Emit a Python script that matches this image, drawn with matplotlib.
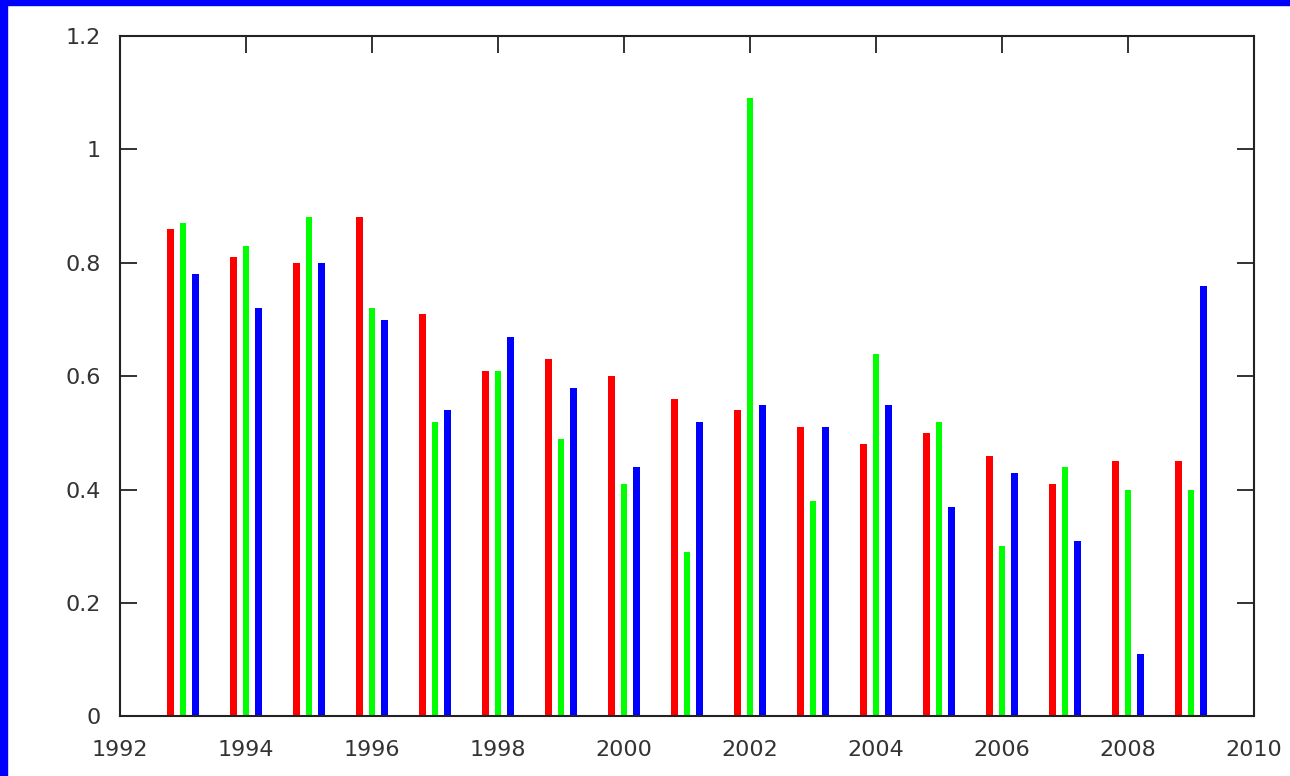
import numpy as np
import matplotlib.pyplot as plt
from matplotlib.patches import Rectangle

# yearly values for the three series
years = np.arange(1993, 2010)
red_vals = [0.86, 0.81, 0.80, 0.88, 0.71, 0.61, 0.63, 0.60, 0.56, 0.54,
            0.51, 0.48, 0.50, 0.46, 0.41, 0.45, 0.45]
green_vals = [0.87, 0.83, 0.88, 0.72, 0.52, 0.61, 0.49, 0.41, 0.29, 1.09,
              0.38, 0.64, 0.52, 0.30, 0.44, 0.40, 0.40]
blue_vals = [0.78, 0.72, 0.80, 0.70, 0.54, 0.67, 0.58, 0.44, 0.52, 0.55,
             0.51, 0.55, 0.37, 0.43, 0.31, 0.11, 0.76]

xticks = np.arange(1992, 2011, 2)
yticks = [0, 0.2, 0.4, 0.6, 0.8, 1.0, 1.2]
ytick_labels = ['0', '0.2', '0.4', '0.6', '0.8', '1', '1.2']

fig = plt.figure(figsize=(12.9, 7.76), dpi=100)
ax = fig.add_axes([0.0930, 0.0767, 0.8791, 0.8769])
ax.set_axisbelow(True)

w = 0.1
ax.bar(years - 0.2, red_vals, width=w, color='#ff0000', linewidth=0)
ax.bar(years, green_vals, width=w, color='#00ff00', linewidth=0)
ax.bar(years + 0.2, blue_vals, width=w, color='#0000ff', linewidth=0)

ax.set_xlim(1992, 2010)
ax.set_ylim(0, 1.2)
ax.set_xticks(xticks)
ax.set_yticks(yticks)
ax.set_yticklabels(ytick_labels)

ax.tick_params(direction='in', length=12, width=1.3, color='#222222',
               top=True, right=True, labelsize=16, labelcolor='#333333')
ax.tick_params(axis='x', pad=17)
ax.tick_params(axis='y', pad=14)
for sp in ax.spines.values():
    sp.set_linewidth(1.5)
    sp.set_color('#222222')

# blue frame along the left and top edges
fig.patches.append(Rectangle((0, 0), 7 / 1290, 1, transform=fig.transFigure,
                             color='#0000ff', zorder=10))
fig.patches.append(Rectangle((0, 1 - 5 / 776), 1, 5 / 776, transform=fig.transFigure,
                             color='#0000ff', zorder=10))

fig.savefig('out.png', dpi=100)
